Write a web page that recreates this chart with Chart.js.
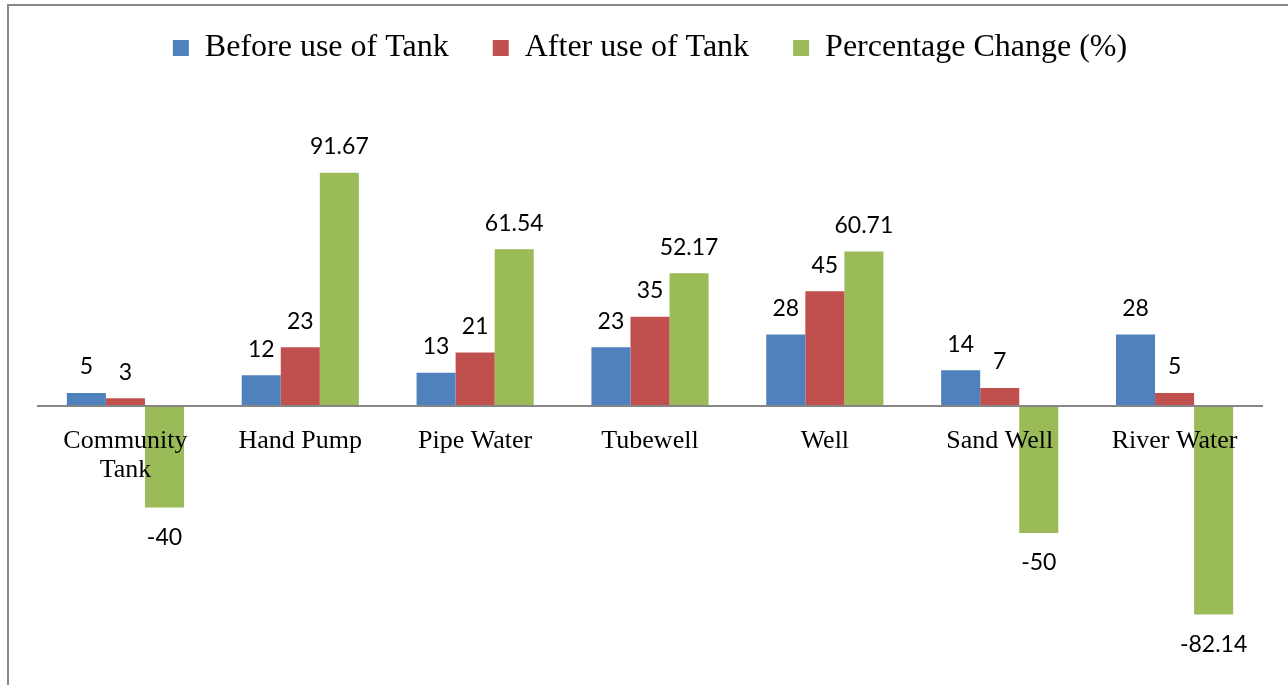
<!DOCTYPE html>
<html>
<head>
<meta charset="utf-8">
<script src="https://cdn.jsdelivr.net/npm/chart.js@4.4.1/dist/chart.umd.min.js"></script>
<style>
html,body{margin:0;padding:0;background:#fff;}
#wrap{position:relative;width:1288px;height:685px;}
</style>
</head>
<body>
<div id="wrap"><canvas id="c" width="1288" height="685"></canvas></div>
<script>
const categories = [["Community","Tank"], "Hand Pump", "Pipe Water", "Tubewell", "Well", "Sand Well", "River Water"];
const beforeUse = [5, 12, 13, 23, 28, 14, 28];
const afterUse = [3, 23, 21, 35, 45, 7, 5];
const pctChange = [-40, 91.67, 61.54, 52.17, 60.71, -50, -82.14];
const seriesNames = ["Before use of Tank", "After use of Tank", "Percentage Change (%)"];
const seriesColors = ["#4F81BD", "#C0504D", "#9BBB59"];

const framePlugin = {
  id: 'frame',
  beforeDraw(chart) {
    const ctx = chart.ctx;
    ctx.save();
    ctx.strokeStyle = '#888888';
    ctx.lineWidth = 2;
    ctx.beginPath();
    ctx.moveTo(8, 685);
    ctx.lineTo(8, 5);
    ctx.lineTo(1288, 5);
    ctx.stroke();
    ctx.restore();
  }
};

const labelPlugin = {
  id: 'valueLabels',
  afterDatasetsDraw(chart) {
    const ctx = chart.ctx;
    ctx.save();
    ctx.font = '23px Lato, "Liberation Sans", sans-serif';
    ctx.fillStyle = '#000';
    ctx.textAlign = 'center';
    ctx.textBaseline = 'middle';
    chart.data.datasets.forEach((ds, di) => {
      const meta = chart.getDatasetMeta(di);
      meta.data.forEach((bar, i) => {
        const v = ds.data[i];
        const y = v >= 0 ? bar.y - 26 : bar.y + 30;
        ctx.fillText(String(v), bar.x, y);
      });
    });
    ctx.restore();
  }
};

new Chart(document.getElementById('c'), {
  type: 'bar',
  data: {
    labels: categories,
    datasets: [
      { label: seriesNames[0], data: beforeUse, backgroundColor: seriesColors[0] },
      { label: seriesNames[1], data: afterUse, backgroundColor: seriesColors[1] },
      { label: seriesNames[2], data: pctChange, backgroundColor: seriesColors[2] }
    ]
  },
  options: {
    responsive: false,
    animation: false,
    events: [],
    layout: { padding: { top: -12, left: 38, right: 26, bottom: 25 } },
    datasets: { bar: { categoryPercentage: 0.67, barPercentage: 1.0 } },
    plugins: {
      legend: {
        position: 'top',
        labels: {
          boxWidth: 16,
          boxHeight: 16,
          padding: 44,
          color: '#000',
          font: { family: '"Liberation Serif", "Times New Roman", serif', size: 32 }
        }
      },
      tooltip: { enabled: false },
      title: { display: false }
    },
    scales: {
      x: {
        position: { y: 0 },
        grid: { display: false },
        border: { display: true, color: '#868686', width: 2, z: 1 },
        ticks: {
          z: 1,
          color: '#000',
          padding: 12,
          maxRotation: 0,
          autoSkip: false,
          font: { family: '"Liberation Serif", "Times New Roman", serif', size: 26, lineHeight: 1.15 }
        }
      },
      y: {
        display: false,
        min: -100,
        max: 130.5
      }
    }
  },
  plugins: [framePlugin, labelPlugin]
});
</script>
</body>
</html>
